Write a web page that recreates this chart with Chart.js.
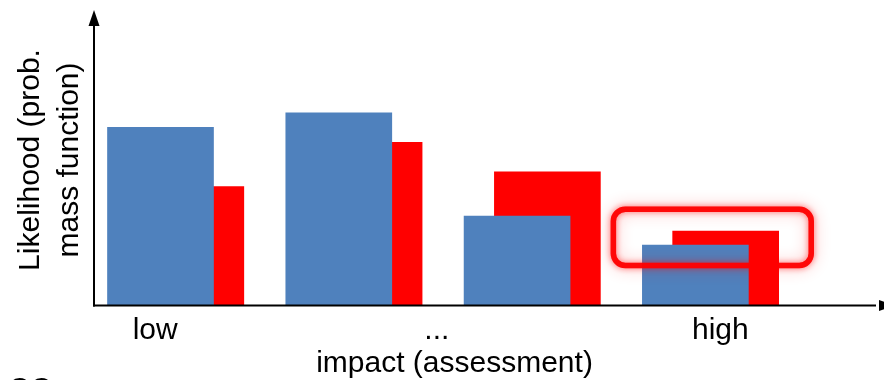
<!DOCTYPE html>
<html>
<head>
<meta charset="utf-8">
<script src="https://cdn.jsdelivr.net/npm/chart.js@4"></script>
<style>
  html, body { margin: 0; padding: 0; background: #fff; }
  #wrap { width: 884px; height: 380px; }
</style>
</head>
<body>
<div id="wrap"><canvas id="chart"></canvas></div>
<script>
// category slots along the impact axis (1 = low ... 4 = high)
const slots = [1, 2, 3, 4];
const redShift = 0.17; // red bar sits a bit right of the blue one, behind it

// likelihood values
const blueValues = [61.3, 66.3, 30.7, 20.7];
const redValues = [40.8, 56.1, 45.9, 25.5];

// tick labels on the impact axis and where they sit
const tickLabels = ['low', '...', 'high'];
const tickSlots = [0.97, 2.55, 4.14];

// highlighted region around the "high" bars (x slots, y likelihood)
const boxX = [3.54, 4.65];
const boxY = [13.6, 33.0];

const fontFamily = '"Liberation Sans", Arial, sans-serif';

// draws the arrow axes, the glowing box and the cut-off text
const extras = {
    id: 'extras',
    afterDatasetsDraw(chart) {
        const ctx = chart.ctx;
        const x = chart.scales.x, y = chart.scales.y;
        const x0 = x.getPixelForValue(boxX[0]), x1 = x.getPixelForValue(boxX[1]);
        const y0 = y.getPixelForValue(boxY[1]), y1 = y.getPixelForValue(boxY[0]);
        ctx.save();
        ctx.lineWidth = 5.5;
        // soft glow first, then the solid line
        ctx.strokeStyle = 'rgba(255, 0, 0, 0.35)';
        ctx.shadowColor = 'rgba(255, 0, 0, 0.9)';
        ctx.shadowBlur = 16;
        ctx.beginPath();
        ctx.roundRect(x0, y0, x1 - x0, y1 - y0, 12);
        ctx.stroke();
        ctx.shadowBlur = 6;
        ctx.shadowColor = 'rgba(255, 0, 0, 0.6)';
        ctx.strokeStyle = 'rgba(255, 0, 0, 0.92)';
        ctx.stroke();
        ctx.restore();
    },
    afterDraw(chart) {
        const ctx = chart.ctx;
        const a = chart.chartArea;
        ctx.save();
        ctx.strokeStyle = '#000';
        ctx.fillStyle = '#000';
        ctx.lineWidth = 2;
        // y axis
        ctx.beginPath();
        ctx.moveTo(a.left, a.bottom + 1.5);
        ctx.lineTo(a.left, a.top + 8);
        ctx.stroke();
        ctx.beginPath();
        ctx.moveTo(a.left, a.top - 5);
        ctx.lineTo(a.left - 5.5, a.top + 11);
        ctx.lineTo(a.left + 5.5, a.top + 11);
        ctx.closePath();
        ctx.fill();
        // x axis
        ctx.beginPath();
        ctx.moveTo(a.left - 1, a.bottom + 0.5);
        ctx.lineTo(chart.width - 8, a.bottom + 0.5);
        ctx.stroke();
        ctx.beginPath();
        ctx.moveTo(chart.width - 5, a.bottom + 0.5 - 5.5);
        ctx.lineTo(chart.width + 11, a.bottom + 0.5);
        ctx.lineTo(chart.width - 5, a.bottom + 0.5 + 5.5);
        ctx.closePath();
        ctx.fill();
        // text cut off at the bottom edge of the original slide
        ctx.font = '30px ' + fontFamily;
        ctx.textBaseline = 'alphabetic';
        ctx.fillText('CO', 8, 398);
        ctx.restore();
    }
};

const ctx = document.getElementById('chart').getContext('2d');
new Chart(ctx, {
    type: 'bar',
    data: {
        datasets: [{
            label: 'blue',
            data: slots.map((s, i) => ({ x: s, y: blueValues[i] })),
            backgroundColor: '#4F81BD'
        }, {
            label: 'red',
            data: slots.map((s, i) => ({ x: s + redShift, y: redValues[i] })),
            backgroundColor: '#FF0000'
        }]
    },
    options: {
        responsive: true,
        maintainAspectRatio: false,
        animation: false,
        layout: { padding: { top: 15, right: 69, left: 0, bottom: 0 } },
        datasets: { bar: { grouped: false, barThickness: 106, borderWidth: 0 } },
        plugins: {
            legend: { display: false },
            tooltip: { enabled: false }
        },
        scales: {
            x: {
                type: 'linear',
                min: 0.627,
                max: 4.671,
                offset: false,
                grid: { display: false, drawTicks: false },
                border: { display: false },
                afterBuildTicks: (scale) => {
                    scale.ticks = tickSlots.map(v => ({ value: v }));
                },
                afterFit: (scale) => { scale.height = 75; },
                ticks: {
                    autoSkip: false,
                    maxRotation: 0,
                    padding: 8,
                    color: '#000',
                    font: { family: fontFamily, size: 30 },
                    callback: (v, i) => tickLabels[i]
                },
                title: {
                    display: true,
                    text: 'impact (assessment)',
                    color: '#000',
                    padding: { top: 0, bottom: -2 },
                    font: { family: fontFamily, size: 30, lineHeight: 1.2 }
                }
            },
            y: {
                min: 0,
                max: 100,
                grid: { display: false, drawTicks: false },
                border: { display: false },
                ticks: { display: false },
                afterFit: (scale) => { scale.width = 94; },
                title: {
                    display: true,
                    text: ['Likelihood (prob.', 'mass function)'],
                    color: '#000',
                    padding: { top: 11, bottom: 0 },
                    font: { family: fontFamily, size: 30, lineHeight: 1.3 }
                }
            }
        }
    },
    plugins: [extras]
});
</script>
</body>
</html>
